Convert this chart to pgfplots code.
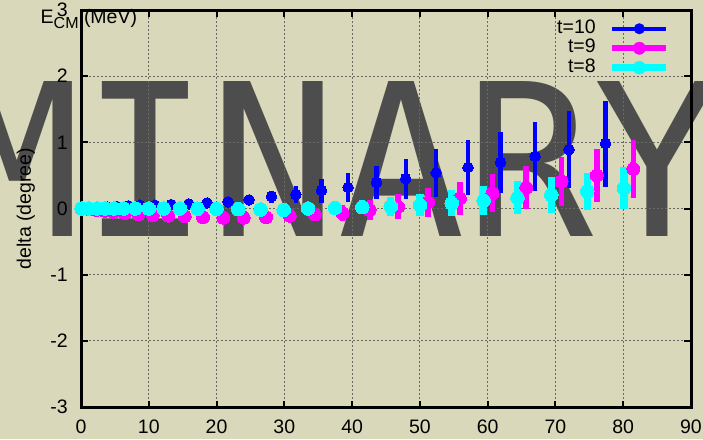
\documentclass[border=0pt]{standalone}
\usepackage{fontspec}
\setmainfont{Liberation Sans}
\newfontfamily\wmfont{DejaVu Sans Mono}
\usepackage{pgfplots}
\pgfplotsset{compat=1.18}
\usepackage{pgfplotstable}
\definecolor{bg}{RGB}{217,216,186}
\definecolor{wm}{RGB}{77,77,77}
\definecolor{gridc}{RGB}{105,105,100}
\definecolor{pblue}{RGB}{0,0,255}
\definecolor{pmag}{RGB}{255,0,255}
\definecolor{pcyan}{RGB}{0,255,255}

\pgfplotstableread{
x y e
0.1 0.01 0.005
1.3 0.01 0.005
2.6 0.015 0.008
3.9 0.02 0.01
5.3 0.03 0.01
7.0 0.04 0.015
8.7 0.05 0.015
10.9 0.05 0.02
13.3 0.06 0.02
15.9 0.07 0.025
18.6 0.085 0.03
21.7 0.10 0.04
24.8 0.13 0.06
28.1 0.18 0.09
31.7 0.21 0.13
35.5 0.27 0.18
39.4 0.32 0.22
43.6 0.39 0.25
47.9 0.45 0.30
52.4 0.54 0.36
57.1 0.62 0.41
61.9 0.70 0.46
67.0 0.79 0.52
72.0 0.89 0.58
77.4 0.98 0.65
}\tten

\pgfplotstableread{
x y e
0.1 -0.005 0.003
1.2 -0.01 0.005
2.3 -0.02 0.008
3.5 -0.035 0.01
4.8 -0.05 0.01
6.5 -0.07 0.012
8.5 -0.09 0.015
10.6 -0.10 0.015
12.9 -0.11 0.018
15.3 -0.12 0.02
18.0 -0.13 0.02
21.0 -0.14 0.025
24.0 -0.14 0.03
27.3 -0.13 0.04
30.8 -0.11 0.06
34.5 -0.09 0.09
38.6 -0.07 0.12
42.6 -0.02 0.15
46.8 0.025 0.19
51.2 0.096 0.22
55.9 0.155 0.25
60.7 0.23 0.29
65.7 0.315 0.32
70.9 0.41 0.37
76.1 0.50 0.40
81.5 0.60 0.44
}\tnine

\pgfplotstableread{
x y e
0.1 0.0 0.002
1.2 0.0 0.003
2.4 0.0 0.004
3.6 0.0 0.005
4.9 0.0 0.006
6.3 0.0 0.008
8.0 0.0 0.01
10.0 0.0 0.01
12.2 0.0 0.012
14.6 0.0 0.015
17.2 -0.003 0.018
20.0 -0.005 0.02
23.2 -0.01 0.02
26.5 -0.015 0.025
29.9 -0.02 0.03
33.5 0.0 0.05
37.5 0.01 0.07
41.5 0.02 0.10
45.7 0.03 0.14
50.0 0.05 0.17
54.7 0.08 0.20
59.4 0.115 0.22
64.4 0.16 0.25
69.4 0.205 0.27
74.7 0.26 0.28
80.1 0.31 0.31
}\teight

\begin{document}
\fontsize{19.5}{23}\selectfont
\begin{tikzpicture}
\useasboundingbox (0pt,0pt) rectangle (703pt,439pt);
\fill[bg] (0pt,0pt) rectangle (703pt,439pt);
\begin{scope}
\clip (0pt,0pt) rectangle (703pt,439pt);
\node[anchor=base, inner sep=0pt, text=wm, font={\wmfont\fontsize{212.6}{212.6}\selectfont}] at (18pt,202pt) {PRELIMINARY};
\end{scope}
\begin{axis}[
  at={(81pt,32pt)}, anchor=south west,
  scale only axis, width=610pt, height=397pt,
  xmin=0, xmax=90, ymin=-3, ymax=3,
  clip=false,
  axis background/.style={fill=none},
  xtick={0,10,...,90}, ytick={-3,-2,...,3},
  xticklabels={0,10,20,30,40,50,60,70,80,90},
  yticklabels={-3,-2,-1,0,1,2,3},
  tick label style={font=\fontsize{19.5}{23}\selectfont},
  xticklabel style={anchor=north, inner sep=0pt, yshift=-13pt},
  yticklabel style={anchor=east, inner sep=0pt, xshift=-13pt},
  tick align=inside,
  major tick length=6.5pt,
  tick style={line width=2pt, black},
  axis line style={line width=3pt, black},
  grid=major,
  major grid style={line width=1.2pt, gridc, dash pattern=on 2pt off 2pt},
  xlabel={E\raisebox{-5pt}{\fontsize{16}{16}\selectfont CM} (MeV)},
  xlabel style={at={(axis description cs:-0.0664,0.967)}, anchor=base west, inner sep=0pt, font=\fontsize{19.5}{23}\selectfont},
  ylabel={delta (degree)},
  ylabel style={at={(axis description cs:-0.082,0.5)}, anchor=base, inner sep=0pt, font=\fontsize{19.5}{23}\selectfont},
  legend style={at={(axis description cs:0.9656,0.9773)}, anchor=north east,
    draw=none, fill=none, inner sep=0pt, outer sep=0pt,
    font=\fontsize{19.5}{23}\selectfont,
    nodes={inner sep=0pt, text height=14pt, text depth=5.5pt},
    column sep=13pt, row sep=0pt},
  legend cell align=right,
  legend plot pos=right,
]
\addplot[only marks, color=pblue, mark=*, mark size=5.3pt, mark options={line width=0pt, fill=pblue},
  legend image code/.code={\draw[line width=4.3pt, pblue] (0pt,0pt) -- (54pt,0pt); \fill[pblue] (27pt,0pt) circle (5.3pt);},
  error bars/.cd, y dir=both, y explicit, error mark=none,
  error bar style={line width=4.3pt, pblue}]
  table[x=x, y=y, y error=e] {\tten};
\addlegendentry{t=10}
\addplot[only marks, color=pmag, mark=*, mark size=6.5pt, mark options={line width=0pt, fill=pmag},
  legend image code/.code={\draw[line width=5.7pt, pmag] (0pt,0pt) -- (54pt,0pt); \fill[pmag] (27pt,0pt) circle (6.2pt);},
  error bars/.cd, y dir=both, y explicit, error mark=none,
  error bar style={line width=5.7pt, pmag}]
  table[x=x, y=y, y error=e] {\tnine};
\addlegendentry{t=9}
\addplot[only marks, color=pcyan, mark=*, mark size=6.8pt, mark options={line width=0pt, fill=pcyan},
  legend image code/.code={\draw[line width=7.3pt, pcyan] (0pt,0pt) -- (54pt,0pt); \fill[pcyan] (27pt,0pt) circle (6.4pt);},
  error bars/.cd, y dir=both, y explicit, error mark=none,
  error bar style={line width=7.3pt, pcyan}]
  table[x=x, y=y, y error=e] {\teight};
\addlegendentry{t=8}
\end{axis}
\end{tikzpicture}
\end{document}
